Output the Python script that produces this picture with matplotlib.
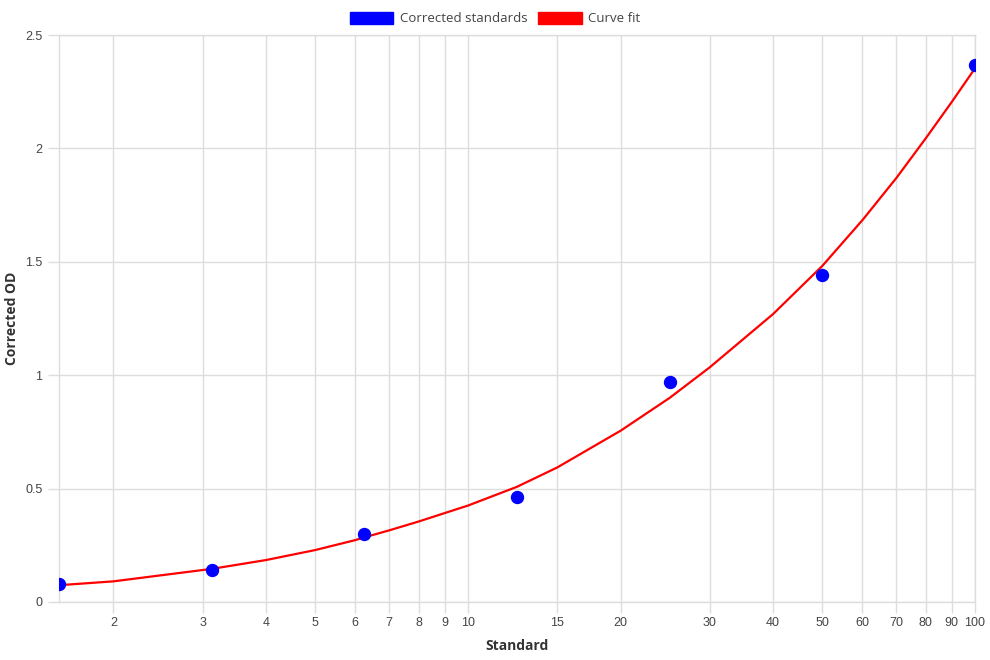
import matplotlib
matplotlib.use('Agg')
import matplotlib.pyplot as plt
from matplotlib.patches import Patch

# corrected standards (dots)
std_x = [1.5625, 3.125, 6.25, 12.5, 25, 50, 100]
std_od = [0.079, 0.139, 0.298, 0.465, 0.970, 1.442, 2.368]

# curve fit
fit_x = [1.5625, 2, 3, 3.125, 4, 5, 6, 6.25, 7, 8, 9, 10, 12.5, 15, 20, 25, 30, 40, 50, 60, 70, 80, 90, 100]
fit_od = [0.074, 0.091, 0.141, 0.146, 0.185, 0.229, 0.273, 0.285, 0.316, 0.355, 0.392, 0.425,
          0.508, 0.593, 0.755, 0.900, 1.035, 1.270, 1.482, 1.684, 1.870, 2.045, 2.205, 2.353]

xticks = [2, 3, 4, 5, 6, 7, 8, 9, 10, 15, 20, 30, 40, 50, 60, 70, 80, 90, 100]
yticks = [0, 0.5, 1, 1.5, 2, 2.5]

grid_c = '#dddddd'
tick_font = 'Liberation Sans'
title_font = 'Open Sans'

fig = plt.figure(figsize=(9.9, 6.6), dpi=100)
ax = fig.add_axes([59/990, 58/660, 916/990, 567/660])

ax.plot(fit_x, fit_od, color='red', lw=1.6, zorder=3, solid_joinstyle='round')
ax.plot(std_x, std_od, 'o', color='blue', ms=8.6, zorder=4)

ax.set_xscale('log')
ax.set_xlim(1.5625, 100)
ax.set_ylim(0, 2.5)
ax.set_xticks(xticks)
ax.set_xticklabels([str(t) for t in xticks])
ax.xaxis.set_minor_locator(matplotlib.ticker.NullLocator())
ax.set_yticks(yticks)
ax.set_yticklabels(['0', '0.5', '1', '1.5', '2', '2.5'])

ax.grid(True, color=grid_c, lw=1)
ax.set_axisbelow(True)
for s in ax.spines.values():
    s.set_color(grid_c)
    s.set_linewidth(1)
ax.tick_params(axis='both', color=grid_c, length=8, width=1, labelcolor='#444444', labelsize=9)
ax.tick_params(axis='x', pad=3)
ax.tick_params(axis='y', pad=4)
for lb in ax.get_xticklabels() + ax.get_yticklabels():
    lb.set_fontfamily(tick_font)

ax.set_xlabel('Standard', fontfamily=title_font, fontweight='bold', fontsize=10, color='#333333')
ax.set_ylabel('Corrected OD', fontfamily=title_font, fontweight='bold', fontsize=10, color='#333333')
ax.xaxis.set_label_coords(0.5, -0.065)
ax.yaxis.set_label_coords(-0.044, 0.5)

handles = [Patch(facecolor='blue', edgecolor='blue'), Patch(facecolor='red', edgecolor='red')]
fig.legend(handles, ['Corrected standards', 'Curve fit'], loc='upper center',
           bbox_to_anchor=(0.5, 1.0), ncol=2, frameon=False,
           prop={'family': title_font, 'size': 9.5},
           handlelength=3.3, handleheight=1.0, handletextpad=0.5, columnspacing=0.8,
           labelcolor='#444444')

fig.savefig('out.png', dpi=100)
